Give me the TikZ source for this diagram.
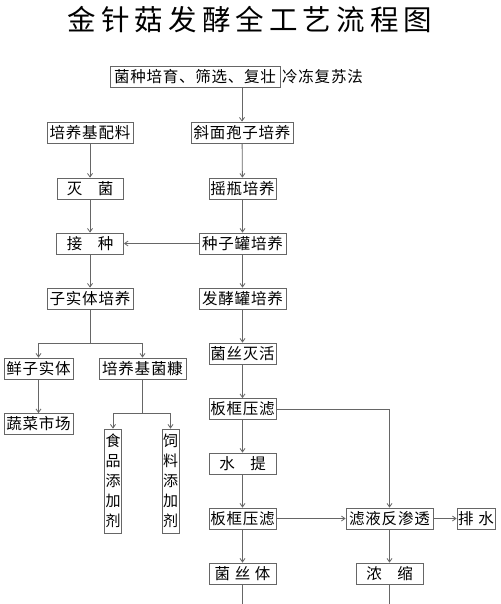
\documentclass[tikz,border=0pt]{standalone}
\usepackage{fontspec}
\newfontfamily\cjk[LetterSpace=5]{Noto Sans CJK SC}
\newfontfamily\cjktitolo[LetterSpace=18]{Noto Sans CJK SC}
\usetikzlibrary{arrows.meta}
\begin{document}
\begin{tikzpicture}[x=1pt,y=-1pt,
    linea/.style={draw=black!60, line width=0.8pt},
    freccia/.style={linea, -{Straight Barb[length=3.5pt,width=5pt]}},
    kuang/.style={draw=black!60, line width=0.8pt, inner sep=0pt,
        minimum height=21pt, font=\cjk\fontsize{15.5pt}{17pt}\selectfont},
    verticale/.style={kuang, minimum width=17pt, minimum height=104pt,
        align=center, font=\cjk\fontsize{15pt}{20pt}\selectfont}]

    % Area del disegno
    \useasboundingbox (0,0) rectangle (500,604);

    % Titolo
    \node[font=\cjktitolo\fontsize{28.5pt}{30pt}\selectfont] (titolo) at (250,20) {金针菇发酵全工艺流程图};

    % Ceppo iniziale
    \node[kuang, minimum width=170pt] (ceppo) at (195,77) {菌种培育、筛选、复壮};
    \node[anchor=west, inner sep=0pt, font=\cjk\fontsize{15.5pt}{17pt}\selectfont] (metodo) at (282,77) {冷冻复苏法};

    % Colonna sinistra
    \node[kuang, minimum width=86pt] (peiliao) at (90,132.5) {培养基配料};
    \node[kuang, minimum width=66pt] (miejun) at (90,188.5) {灭\hspace{1em}菌};
    \node[kuang, minimum width=67pt] (jiezhong) at (90,243.5) {接\hspace{1em}种};
    \node[kuang, minimum width=86pt] (zishiti) at (90,298.5) {子实体培养};
    \node[kuang, minimum width=69pt] (xianzi) at (38.5,368.5) {鲜子实体};
    \node[kuang, minimum width=87pt] (junkang) at (142.5,368.5) {培养基菌糠};
    \node[kuang, minimum width=69pt] (shichang) at (38.5,424) {蔬菜市场};
    \node[verticale] (shipin) at (113,481) {食\\品\\添\\加\\剂};
    \node[verticale] (siliao) at (170.5,481) {饲\\料\\添\\加\\剂};

    % Colonna centrale
    \node[kuang, minimum width=102pt] (xiemian) at (242,132.5) {斜面孢子培养};
    \node[kuang, minimum width=67pt] (yaoping) at (242.5,188.5) {摇瓶培养};
    \node[kuang, minimum width=87pt] (zhongzi) at (242.5,243.5) {种子罐培养};
    \node[kuang, minimum width=87pt] (fajiao) at (242.5,298.5) {发酵罐培养};
    \node[kuang, minimum width=67pt] (miehuo) at (242.5,353.5) {菌丝灭活};
    \node[kuang, minimum width=67pt] (yalv1) at (242.5,409) {板框压滤};
    \node[kuang, minimum width=67pt] (shuiti) at (242.5,463.5) {水\hspace{1em}提};
    \node[kuang, minimum width=67pt] (yalv2) at (242.5,518.5) {板框压滤};
    \node[kuang, minimum width=67pt] (junsi) at (242.5,573.5) {菌\hspace{0.3em}丝\hspace{0.3em}体};

    % Colonna destra
    \node[kuang, minimum width=87pt] (shentou) at (389.5,518.5) {滤液反渗透};
    \node[kuang, minimum width=38pt] (paishui) at (476,518.5) {排\hspace{0.3em}水};
    \node[kuang, minimum width=67pt] (nongsuo) at (389.5,573.5) {浓\hspace{1em}缩};

    % Punti di diramazione
    \coordinate (ramo1) at (90,343);
    \coordinate (ramo2) at (142.5,413);
    \coordinate (fine1) at (242.5,604);
    \coordinate (fine2) at (389.5,604);

    % Collegamenti
    \draw[freccia] (xiemian.north |- ceppo.south) -- (xiemian);
    \draw[freccia] (xiemian) -- (yaoping);
    \draw[freccia] (yaoping) -- (zhongzi);
    \draw[freccia] (zhongzi) -- (fajiao);
    \draw[freccia] (fajiao) -- (miehuo);
    \draw[freccia] (miehuo) -- (yalv1);
    \draw[freccia] (yalv1) -- (shuiti);
    \draw[freccia] (shuiti) -- (yalv2);
    \draw[freccia] (yalv2) -- (junsi);
    \draw[linea] (junsi) -- (fine1);

    \draw[freccia] (peiliao) -- (miejun);
    \draw[freccia] (miejun) -- (jiezhong);
    \draw[freccia] (zhongzi) -- (jiezhong);
    \draw[freccia] (jiezhong) -- (zishiti);
    \draw[linea] (zishiti) -- (ramo1);
    \draw[freccia] (ramo1) -| (xianzi.north);
    \draw[freccia] (ramo1) -| (junkang.north);
    \draw[freccia] (xianzi) -- (shichang);
    \draw[linea] (junkang) -- (ramo2);
    \draw[freccia] (ramo2) -| (shipin.north);
    \draw[freccia] (ramo2) -| (siliao.north);

    \draw[freccia] (yalv1.east) -| (shentou.north);
    \draw[freccia] (yalv2) -- (shentou);
    \draw[freccia] (shentou) -- (paishui);
    \draw[freccia] (shentou) -- (nongsuo);
    \draw[linea] (nongsuo) -- (fine2);

\end{tikzpicture}
\end{document}
